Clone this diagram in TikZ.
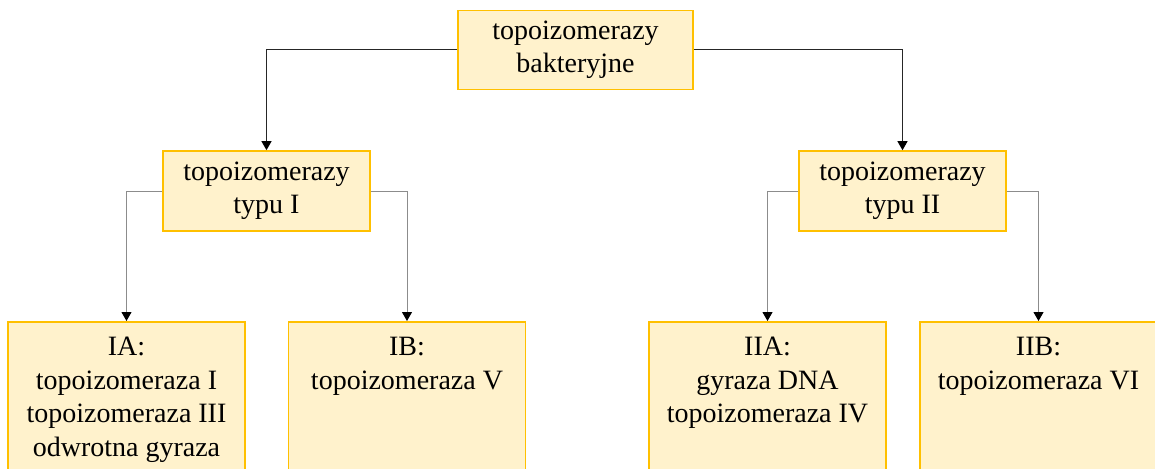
\documentclass[tikz,border=0pt]{standalone}
\usepackage{fontspec}
\setmainfont{Liberation Serif}
\usetikzlibrary{arrows.meta}
\definecolor{boxfill}{HTML}{FFF2CC}
\definecolor{boxline}{HTML}{FFC000}
\tikzset{
  box/.style={draw=boxline, fill=boxfill, line width=1.6pt, align=center,
    font=\fontsize{28}{33}\selectfont, inner sep=0pt},
  conn/.style={draw=black!85, line width=1pt, -{Triangle[length=9pt,width=10pt,fill=black,color=black]}},
  conng/.style={conn, draw=black!45},
}
\newcommand{\btext}[1]{\parbox[t][170pt][t]{237pt}{\centering\fontsize{28}{33.5}\selectfont\rule{0pt}{34pt}#1}}
\begin{document}
\begin{tikzpicture}[x=1pt,y=-1pt]
\useasboundingbox (0,0) rectangle (1155,468);
\clip (0,0) rectangle (1155,468);
\node[box, minimum width=235pt, minimum height=79pt] (top) at (575.5,50) {topoizomerazy\\bakteryjne};
\node[box, minimum width=207pt, minimum height=80pt] (m1) at (266.5,191) {topoizomerazy\\typu I};
\node[box, minimum width=207pt, minimum height=80pt] (m2) at (902.5,191) {topoizomerazy\\typu II};
\node[box, anchor=north] (ia) at (126.5,321) {\btext{IA:\\topoizomeraza I\\topoizomeraza III\\odwrotna gyraza}};
\node[box, anchor=north] (ib) at (407,321) {\btext{IB:\\topoizomeraza V}};
\node[box, anchor=north] (iia) at (767.5,321) {\btext{IIA:\\gyraza DNA\\topoizomeraza IV}};
\node[box, anchor=north] (iib) at (1038.5,321) {\btext{IIB:\\topoizomeraza VI}};
\draw[conn] (top.west) -| (m1.north);
\draw[conn] (top.east) -| (m2.north);
\draw[conng] (m1.west) -| (ia.north);
\draw[conng] (m1.east) -| (ib.north);
\draw[conng] (m2.west) -| (iia.north);
\draw[conng] (m2.east) -| (iib.north);
\end{tikzpicture}
\end{document}
